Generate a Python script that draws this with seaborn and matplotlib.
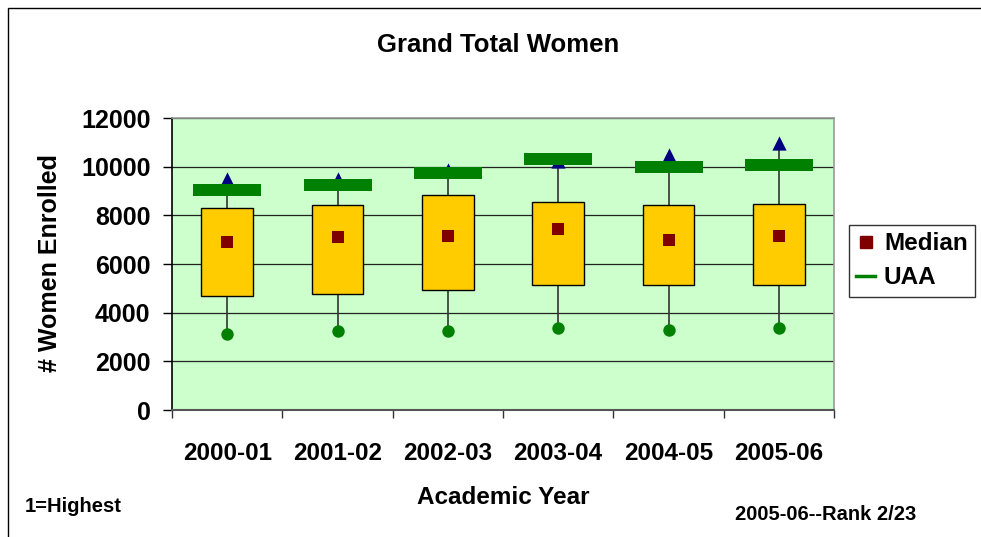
import numpy as np
import pandas as pd
import seaborn as sns
import matplotlib.pyplot as plt
from matplotlib.lines import Line2D
from matplotlib.patches import Rectangle
from matplotlib.path import Path

years = ["2000-01", "2001-02", "2002-03", "2003-04", "2004-05", "2005-06"]
q1 = [4680, 4750, 4950, 5140, 5140, 5140]
q3 = [8290, 8410, 8820, 8560, 8410, 8480]
median = [6920, 7110, 7160, 7440, 6990, 7160]
uaa = [9040, 9230, 9750, 10330, 10000, 10080]
high = [9500, 9480, 9850, 10220, 10490, 10980]
low = [3110, 3230, 3230, 3360, 3300, 3360]

plt.rcParams["font.family"] = ["Liberation Sans", "DejaVu Sans"]
plt.rcParams["font.weight"] = "bold"

W, H = 981, 537
fig = plt.figure(figsize=(W / 100, H / 100), dpi=100)
ax = fig.add_axes([172 / W, 1 - 410 / H, (834 - 172) / W, (410 - 118) / H])
ax.set_facecolor("#CCFFCC")

df = pd.DataFrame({"year": years, "median": median, "uaa": uaa, "high": high, "low": low})

# boxes (Q1..Q3) and high-low lines
ax.bar(years, np.array(q3) - np.array(q1), bottom=q1, width=0.47,
       color="#FFCC00", edgecolor="black", linewidth=1, zorder=3)
ax.vlines(years, low, high, color="#333333", linewidth=1.2, zorder=2)

# wide flat marker for UAA
bar_marker = Path([(-0.5, -0.09), (0.5, -0.09), (0.5, 0.09), (-0.5, 0.09), (-0.5, -0.09)],
                  [Path.MOVETO, Path.LINETO, Path.LINETO, Path.LINETO, Path.CLOSEPOLY])

sns.scatterplot(data=df, x="year", y="high", marker="^", s=105, color="#000080",
                linewidth=0, zorder=4, ax=ax)
sns.scatterplot(data=df, x="year", y="low", marker="o", s=80, color="#008000",
                linewidth=0, zorder=4, ax=ax)
sns.scatterplot(data=df, x="year", y="uaa", marker=bar_marker, s=48.5 ** 2, color="#008000",
                linewidth=0, zorder=5, ax=ax)
sns.scatterplot(data=df, x="year", y="median", marker="s", s=80, color="#800000",
                linewidth=0, zorder=6, ax=ax)

ax.set_xlim(-0.5, 5.5)
ax.set_ylim(0, 12000)
ax.set_yticks(range(0, 12001, 2000))
ax.yaxis.grid(True, color="#222222", linewidth=0.9)
ax.set_axisbelow(True)
ax.tick_params(axis="y", direction="out", length=6.5, width=1, pad=9, labelsize=18)

ax.set_xticks(np.arange(-0.5, 6, 1))
ax.set_xticklabels([])
ax.set_xticks(range(len(years)), minor=True)
ax.set_xticklabels(years, minor=True)
ax.tick_params(axis="x", which="major", direction="out", length=6, width=1, color="#333333")
ax.tick_params(axis="x", which="minor", length=0, pad=23, labelsize=17.5)
ax.set_xlabel("")
ax.set_ylabel("")

ax.spines["left"].set_color("black")
ax.spines["left"].set_linewidth(1.2)
ax.spines["bottom"].set_color("#555555")
ax.spines["bottom"].set_linewidth(1.5)
for s in ("top", "right"):
    ax.spines[s].set_color("#999999")
    ax.spines[s].set_linewidth(1.2)

handles = [Line2D([], [], marker="s", color="#800000", linestyle="none", markersize=9),
           Line2D([], [], color="#008000", linewidth=2.5)]
leg = fig.legend(handles, ["Median", "UAA"], loc="upper right",
                 bbox_to_anchor=(975 / W, 1 - 225 / H), fontsize=17.5,
                 frameon=True, fancybox=False, handlelength=0.8, handletextpad=0.35,
                 labelspacing=0.45, borderpad=0.3, borderaxespad=0)
leg.get_frame().set_edgecolor("black")
leg.get_frame().set_linewidth(1)

fig.text(498 / W, 1 - 45 / H, "Grand Total Women", ha="center", va="center", fontsize=18.5)
fig.text(50 / W, 1 - 263 / H, "# Women Enrolled", ha="center", va="center",
         rotation=90, fontsize=18)
fig.text(503 / W, 1 - 497 / H, "Academic Year", ha="center", va="center", fontsize=17.5)
fig.text(25 / W, 1 - 506 / H, "1=Highest", ha="left", va="center", fontsize=14.5)
fig.text(735 / W, 1 - 514 / H, "2005-06--Rank 2/23", ha="left", va="center", fontsize=14.5)

fig.patches.append(Rectangle((8 / W, -0.1), 1.2, 1 - 8 / H + 0.1, transform=fig.transFigure,
                             fill=False, edgecolor="black", linewidth=1))

fig.savefig("out.png", dpi=100)
